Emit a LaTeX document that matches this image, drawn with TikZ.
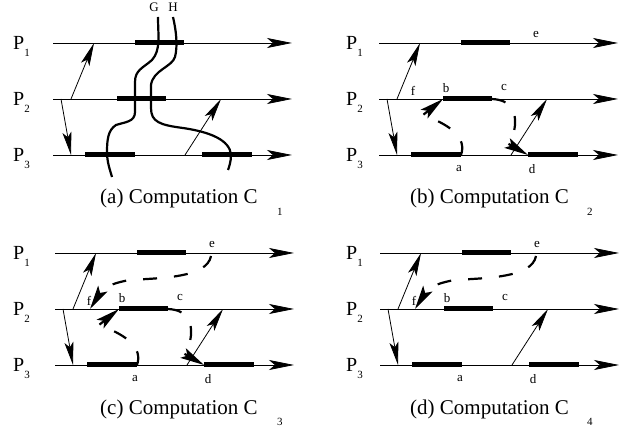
\documentclass[tikz,border=0pt]{standalone}
\usepackage{fontspec}
\setmainfont{Liberation Serif}
\usetikzlibrary{arrows.meta}
\tikzset{
  tline/.style={line width=0.8pt, -{Stealth[length=25pt,width=10pt,inset=6pt]}},
  barl/.style={line width=5pt},
  msg/.style={line width=0.8pt, -{Stealth[length=23pt,width=9pt,inset=5pt]}},
  cutl/.style={line width=2.2pt},
  dep/.style={line width=2.2pt, dash pattern=on 14pt off 17pt, -{Stealth[length=24pt,width=11pt,inset=5pt]}},
  lbl/.style={inner sep=0pt, font=\fontsize{13}{13}\selectfont},
  plab/.style={anchor=base west, inner sep=0pt, font=\fontsize{20}{20}\selectfont},
  capt/.style={anchor=base west, inner sep=0pt, font=\fontsize{21}{21}\selectfont},
  subl/.style={anchor=base west, inner sep=0pt, font=\fontsize{11}{11}\selectfont},
  panel/.pic={
    \coordinate (-L1s) at (0,0);   \coordinate (-L1e) at (239,0);
    \coordinate (-L2s) at (0,56);  \coordinate (-L2e) at (239,56);
    \coordinate (-L3s) at (0,112); \coordinate (-L3e) at (239,112);
    \coordinate (-x1s) at (82,0);  \coordinate (-x1e) at (131,0);
    \coordinate (-b) at (64,56);   \coordinate (-c) at (113,56);
    \coordinate (-x3s) at (32,112); \coordinate (-a) at (82,112);
    \coordinate (-d) at (149,112); \coordinate (-x3e) at (199,112);
    \coordinate (-e) at (156,3);   \coordinate (-f) at (35,56);
    \coordinate (-m1s) at (18,56); \coordinate (-m1e) at (41,0);
    \coordinate (-m2s) at (8,56);  \coordinate (-m2e) at (18,112);
    \coordinate (-m3s) at (132,112); \coordinate (-m3e) at (168,56);
    \draw[tline] (-L1s) -- (-L1e);
    \draw[tline] (-L2s) -- (-L2e);
    \draw[tline] (-L3s) -- (-L3e);
    \draw[barl] (-x1s) -- (-x1e);
    \draw[barl] (-b) -- (-c);
    \draw[barl] (-x3s) -- (-a);
    \draw[barl] (-d) -- (-x3e);
    \draw[msg] (-m1s) -- (-m1e);
    \draw[msg] (-m2s) -- (-m2e);
    \draw[msg] (-m3s) -- (-m3e);
  },
  evlabels/.pic={
    \node[lbl] (-e) at (157,-8) {e};
    \node[lbl] (-f) at (34,48) {f};
    \node[lbl] (-b) at (67,45) {b};
    \node[lbl] (-c) at (125,45) {c};
    \node[lbl] (-a) at (80,126) {a};
    \node[lbl] (-d) at (153,126) {d};
  }
}
\begin{document}
\begin{tikzpicture}[x=1pt,y=-1pt]
\useasboundingbox (0,0) rectangle (627,438);
% panels
\pic (A) at (53,43) {panel};
\pic (B) at (379,43) {panel};
\pic (C) at (55,253) {panel};
\pic (D) at (380,253) {panel};
\pic (BL) at (379,43) {evlabels};
\pic (CL) at (55,253) {evlabels};
\pic (DL) at (380,253) {evlabels};
% process labels
\foreach \n/\x/\y in {A/13/43, B/346/43, C/13/253, D/346/253}{
  \node[plab] (\n P1) at (\x,\y+7) {P\raisebox{-7pt}{\fontsize{11}{11}\selectfont 1}};
  \node[plab] (\n P2) at (\x,\y+63) {P\raisebox{-7pt}{\fontsize{11}{11}\selectfont 2}};
  \node[plab] (\n P3) at (\x,\y+119) {P\raisebox{-7pt}{\fontsize{11}{11}\selectfont 3}};
}
% captions
\node[capt] (capA) at (100,204) {(a) Computation C};
\node[subl] (subA) at (277,216) {1};
\node[capt] (capB) at (410,204) {(b) Computation C};
\node[subl] (subB) at (587,216) {2};
\node[capt] (capC) at (100,414) {(c) Computation C};
\node[subl] (subC) at (277,426) {3};
\node[capt] (capD) at (410,414) {(d) Computation C};
\node[subl] (subD) at (587,426) {4};
% panel (a): cuts G and H
\node[lbl] (G) at (154,7) {G};
\node[lbl] (H) at (173,7) {H};
\coordinate (Gs) at (158,17);
\coordinate (Hs) at (173,17);
\draw[cutl] (Gs) .. controls (158,35) and (161,50) .. (152,60)
  .. controls (143,68) and (135,70) .. (135,82) -- (135,112)
  .. controls (135,122) and (125,122) .. (116,125)
  .. controls (108,130) and (107,140) .. (107,152)
  .. controls (107,162) and (110,170) .. (112,177);
\draw[cutl] (Hs) .. controls (176,30) and (178,45) .. (175,57)
  .. controls (172,67) and (153,70) .. (151,85) -- (151,108)
  .. controls (151,122) and (160,125) .. (183,128)
  .. controls (210,132) and (230,140) .. (231,155)
  .. controls (231,162) and (229,167) .. (228,170);
% dependency curves
\foreach \p in {B,C}{
  \draw[dep] (\p-a) .. controls +(6,-17) and +(28,10) .. ++(-38,-40) -- (\p-b);
  \draw[dep] (\p-c) .. controls +(19,1) and +(1,-14) .. ++(23,26)
     .. controls +(-1,10) and +(4,-3) .. ++(-8,18) -- (\p-d);
}
\foreach \p in {C,D}{
  \draw[dep] (\p-e) .. controls +(-4,22) and +(30,-2) .. ++(-81,24)
     .. controls +(-13,2) and +(5,-4) .. ++(-28,10) -- (\p-f);
}
\end{tikzpicture}
\end{document}
